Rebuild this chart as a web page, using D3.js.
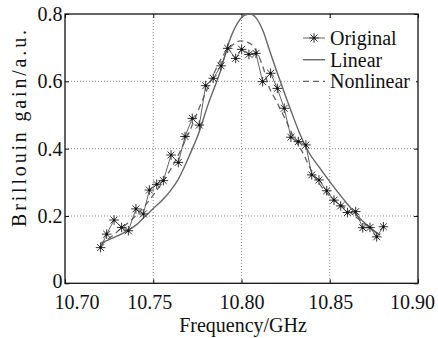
<!DOCTYPE html>
<html>
<head>
<meta charset="utf-8">
<script src="https://cdn.jsdelivr.net/npm/d3@7"></script>
<style>
  html, body { margin: 0; padding: 0; background: #fff; }
  svg { display: block; }
</style>
</head>
<body>
<div id="chart"></div>
<script>
// measured data (GHz, a.u.)
const origFreq = [10.7202, 10.7236, 10.7278, 10.7321, 10.7359, 10.7402, 10.7444, 10.7478, 10.7520, 10.7557,
  10.7601, 10.7642, 10.7680, 10.7721, 10.7761, 10.7797, 10.7840, 10.7884, 10.7922, 10.7967,
  10.8001, 10.8042, 10.8082, 10.8120, 10.8165, 10.8203, 10.8242, 10.8280, 10.8322, 10.8365,
  10.8398, 10.8439, 10.8483, 10.8524, 10.8562, 10.8600, 10.8647, 10.8687, 10.8728, 10.8766, 10.8804];
const origGain = [0.106, 0.146, 0.188, 0.166, 0.156, 0.221, 0.206, 0.277, 0.294, 0.305,
  0.381, 0.359, 0.436, 0.490, 0.470, 0.587, 0.609, 0.646, 0.698, 0.668,
  0.695, 0.680, 0.683, 0.599, 0.624, 0.579, 0.520, 0.434, 0.421, 0.411,
  0.322, 0.307, 0.275, 0.247, 0.230, 0.210, 0.213, 0.165, 0.166, 0.138, 0.168];

const linFreq = [10.720, 10.725, 10.733, 10.740, 10.745, 10.750, 10.756, 10.760, 10.764, 10.768,
  10.771, 10.775, 10.781, 10.788, 10.7935, 10.798, 10.802, 10.805, 10.808, 10.8124,
  10.816, 10.820, 10.8275, 10.833, 10.838, 10.844, 10.850, 10.8596, 10.868, 10.8785];
const linGain = [0.119, 0.130, 0.149, 0.172, 0.197, 0.222, 0.252, 0.277, 0.307, 0.350,
  0.386, 0.435, 0.530, 0.630, 0.725, 0.775, 0.797, 0.800, 0.790, 0.747,
  0.690, 0.629, 0.520, 0.445, 0.390, 0.345, 0.302, 0.238, 0.188, 0.143];

const nonFreq = [10.720, 10.730, 10.740, 10.750, 10.760, 10.770, 10.780, 10.790, 10.795, 10.7994,
  10.805, 10.8086, 10.8124, 10.8152, 10.820, 10.8255, 10.830, 10.835, 10.840, 10.848,
  10.858, 10.867, 10.878];
const nonGain = [0.112, 0.155, 0.200, 0.262, 0.340, 0.445, 0.570, 0.680, 0.708, 0.720,
  0.712, 0.688, 0.639, 0.589, 0.539, 0.480, 0.430, 0.385, 0.330, 0.270,
  0.226, 0.188, 0.143];

const xTicks = [10.70, 10.75, 10.80, 10.85, 10.90];
const yTicks = [0, 0.2, 0.4, 0.6, 0.8];
const legendNames = ['Original', 'Linear', 'Nonlinear'];

const width = 438, height = 338;
const margin = { top: 14, right: 20, bottom: 54.7, left: 65 };
const ink = '#111';
const curveColor = '#666';
const serif = '"Liberation Serif"';

const svg = d3.select('#chart').append('svg')
  .attr('width', width)
  .attr('height', height);

const x = d3.scaleLinear().domain([10.70, 10.90]).range([margin.left, width - margin.right]);
const y = d3.scaleLinear().domain([0, 0.8]).range([height - margin.bottom, margin.top]);

// grid (dotted)
const grid = svg.append('g').attr('stroke', '#8a8a8a').attr('stroke-width', 1).attr('stroke-dasharray', '1,2');
grid.selectAll('line.gx').data(xTicks.slice(1, -1)).join('line')
  .attr('x1', d => x(d)).attr('x2', d => x(d))
  .attr('y1', y(0.8)).attr('y2', y(0));
grid.selectAll('line.gy').data(yTicks.slice(1, -1)).join('line')
  .attr('x1', x(10.70)).attr('x2', x(10.90))
  .attr('y1', d => y(d)).attr('y2', d => y(d));

// axes, ticks inward on all four sides
const labelNudge = [11.5, -4, 0, 0.5, -6];
const fmtY = d => d === 0 ? '0' : d.toFixed(1);

svg.append('g')
  .attr('transform', `translate(0,${y(0)})`)
  .call(d3.axisBottom(x).tickValues(xTicks).tickFormat(d3.format('.2f')).tickSizeInner(-4).tickSizeOuter(0).tickPadding(11.5))
  .call(g => g.selectAll('text').attr('dx', (d, i) => labelNudge[i]));

svg.append('g')
  .attr('transform', `translate(${x(10.70)},0)`)
  .call(d3.axisLeft(y).tickValues(yTicks).tickFormat(fmtY).tickSizeInner(-4).tickSizeOuter(0).tickPadding(2.5))
  .call(g => g.selectAll('text').attr('dy', d => d === 0 ? '0.22em' : '0.32em'));

svg.append('g')
  .attr('transform', `translate(0,${y(0.8)})`)
  .call(d3.axisTop(x).tickValues(xTicks).tickFormat('').tickSizeInner(-4).tickSizeOuter(0));

svg.append('g')
  .attr('transform', `translate(${x(10.90)},0)`)
  .call(d3.axisRight(y).tickValues(yTicks).tickFormat('').tickSizeInner(-4).tickSizeOuter(0));

svg.selectAll('.domain').remove();
svg.selectAll('.tick line').attr('stroke', ink).attr('stroke-width', 1);
svg.selectAll('.tick text').attr('fill', ink).style('font-size', '20px').style('font-family', serif);

svg.append('rect')
  .attr('x', x(10.70)).attr('y', y(0.8))
  .attr('width', x(10.90) - x(10.70)).attr('height', y(0) - y(0.8))
  .attr('fill', 'none').attr('stroke', ink).attr('stroke-width', 1.3);

// curves
const line = d3.line().x(d => x(d[0])).y(d => y(d[1]));
const smooth = d3.line().x(d => x(d[0])).y(d => y(d[1])).curve(d3.curveMonotoneX);

const origPts = origFreq.map((f, i) => [f, origGain[i]]);
const linPts = linFreq.map((f, i) => [f, linGain[i]]);
const nonPts = nonFreq.map((f, i) => [f, nonGain[i]]);

svg.append('path').datum(linPts)
  .attr('fill', 'none').attr('stroke', curveColor).attr('stroke-width', 1.4)
  .attr('d', smooth);

svg.append('path').datum(nonPts)
  .attr('fill', 'none').attr('stroke', curveColor).attr('stroke-width', 1.3)
  .attr('stroke-dasharray', '6,4')
  .attr('d', smooth);

svg.append('path').datum(origPts)
  .attr('fill', 'none').attr('stroke', '#555').attr('stroke-width', 0.9)
  .attr('d', line);

// asterisk markers
const star = (r) => {
  const q = r * 0.72;
  return `M${-r},0H${r}M0,${-r}V${r}M${-q},${-q}L${q},${q}M${-q},${q}L${q},${-q}`;
};

const marks = svg.append('g').selectAll('g').data(origPts).join('g')
  .attr('transform', d => `translate(${x(d[0])},${y(d[1])})`);
marks.append('path').attr('d', star(4.8)).attr('stroke', '#333').attr('stroke-width', 1).attr('fill', 'none');
marks.append('circle').attr('r', 1.3).attr('fill', '#111');

// legend
const legend = svg.append('g');
legend.append('rect')
  .attr('x', 300).attr('y', 18).attr('width', 116).attr('height', 74)
  .attr('fill', '#fff');

const rows = legend.selectAll('g.row').data(legendNames).join('g')
  .attr('transform', (d, i) => `translate(303,${38 + i * 21.7})`);

rows.append('line')
  .attr('x1', 0).attr('x2', 22).attr('y1', 0).attr('y2', 0)
  .attr('stroke', (d, i) => i === 0 ? '#555' : curveColor)
  .attr('stroke-width', (d, i) => i === 0 ? 0.9 : 1.4)
  .attr('stroke-dasharray', (d, i) => i === 2 ? '6,4' : null);

rows.filter((d, i) => i === 0).append('path')
  .attr('transform', 'translate(11,0)')
  .attr('d', star(4.8)).attr('stroke', '#333').attr('stroke-width', 1).attr('fill', 'none');
rows.filter((d, i) => i === 0).append('circle')
  .attr('cx', 11).attr('r', 1.3).attr('fill', '#111');

rows.append('text')
  .attr('x', 27).attr('y', 7)
  .attr('fill', ink)
  .style('font-size', '20px')
  .style('font-family', serif)
  .text(d => d);

// axis titles
svg.append('text')
  .attr('x', 243).attr('y', 331.5)
  .attr('text-anchor', 'middle')
  .attr('fill', ink)
  .style('font-size', '20px')
  .style('font-family', serif)
  .text('Frequency/GHz');

svg.append('text')
  .attr('transform', 'translate(26,128.5) rotate(-90)')
  .attr('text-anchor', 'middle')
  .attr('fill', ink)
  .attr('textLength', 197)
  .attr('lengthAdjust', 'spacing')
  .style('font-size', '20px')
  .style('font-family', serif)
  .text('Brillouin gain/a.u.');
</script>
</body>
</html>
